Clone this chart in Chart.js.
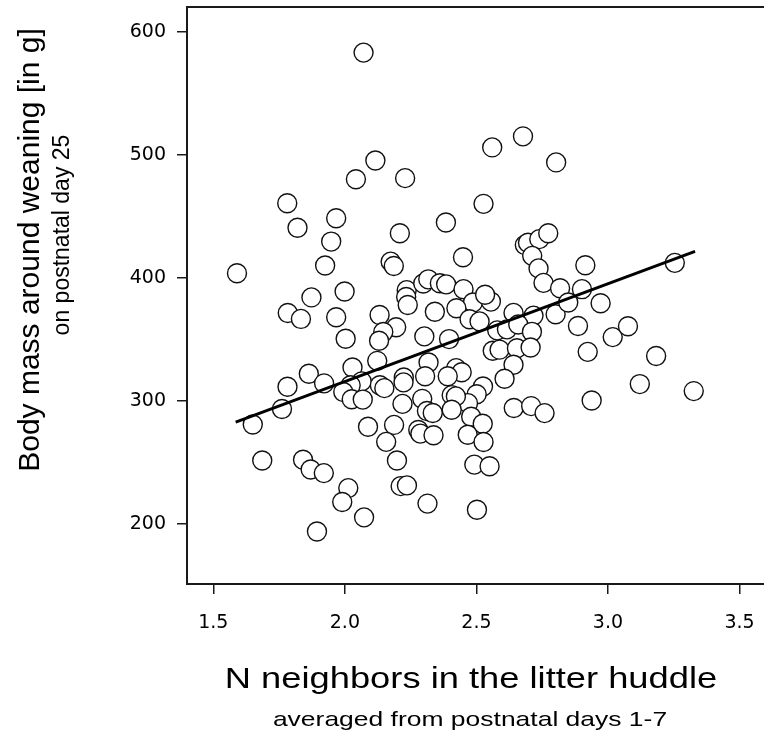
<!DOCTYPE html>
<html>
<head>
<meta charset="utf-8">
<title>Body mass vs huddle neighbors</title>
<script src="https://cdn.jsdelivr.net/npm/chart.js@4.4.0/dist/chart.umd.min.js"></script>
<style>
  html, body { margin: 0; padding: 0; background: #fff; }
  canvas { display: block; }
</style>
</head>
<body>
<canvas id="huddle" width="764" height="744"></canvas>
<script>
// N neighbors (x) and body mass in g (y), one entry per pup
var neighbors = [
    2.071, 2.116, 2.042, 2.229, 1.781, 1.967, 1.820, 2.384, 2.209, 1.948,
    2.527, 2.449, 1.925, 2.174, 2.186, 1.590, 1.873, 1.999, 2.235, 2.233,
    2.239, 2.298, 2.317, 2.361, 2.385, 2.451, 2.487, 2.560, 2.677, 2.803,
    2.684, 2.696, 2.739, 2.773, 2.712, 2.736, 2.755, 2.818, 2.914, 2.901,
    3.254, 2.972, 2.886, 3.018, 3.076, 2.923, 2.801, 2.849, 2.717, 2.641,
    2.555, 2.533, 2.579, 2.616, 2.659, 2.711, 2.562, 2.588, 2.654, 2.706,
    2.641, 2.607, 2.525, 2.501, 2.468, 2.642, 2.708, 2.759, 2.480, 2.524,
    2.467, 2.527, 2.492, 2.550, 2.502, 3.183, 3.121, 3.326, 2.938, 2.424,
    1.783, 2.342, 2.132, 1.833, 1.967, 2.474, 2.512, 2.195, 2.146, 2.302,
    2.003, 2.396, 2.130, 2.123, 2.318, 2.029, 2.423, 2.444, 1.863, 2.224,
    2.223, 2.305, 2.391, 2.064, 1.921, 1.782, 2.133, 2.150, 2.022, 1.994,
    2.406, 2.422, 2.026, 2.068, 2.294, 2.219, 1.761, 2.312, 2.334, 2.406,
    1.650, 2.088, 2.187, 2.279, 2.287, 2.337, 2.157, 1.841, 1.686, 2.198,
    1.870, 1.920, 2.212, 2.236, 2.013, 1.990, 2.314, 2.073, 1.894
];
var bodyMass = [
    583.2, 495.4, 480.2, 481.1, 460.7, 448.5, 440.7, 445.0, 436.3, 429.5,
    460.2, 416.8, 410.0, 413.2, 409.7, 403.7, 384.1, 388.9, 390.0, 384.4,
    377.9, 395.4, 398.8, 395.6, 394.7, 390.8, 380.0, 506.1, 515.1, 493.9,
    426.7, 428.6, 431.5, 436.3, 417.9, 407.7, 395.9, 391.6, 410.2, 390.8,
    412.2, 379.3, 360.9, 351.8, 360.6, 339.8, 370.4, 380.0, 369.3, 371.5,
    380.7, 386.2, 357.3, 358.1, 362.1, 356.1, 340.7, 341.6, 342.7, 343.3,
    329.3, 317.9, 311.6, 305.3, 298.1, 294.2, 295.7, 290.0, 287.0, 281.3,
    272.4, 266.5, 248.1, 246.8, 211.4, 336.4, 313.6, 307.9, 300.3, 375.3,
    371.4, 372.4, 369.8, 366.6, 367.9, 366.3, 364.6, 359.8, 356.0, 352.4,
    350.5, 350.2, 348.9, 332.5, 331.2, 327.1, 326.6, 323.2, 322.0, 319.0,
    315.0, 320.0, 320.0, 315.8, 314.2, 311.4, 312.6, 310.3, 312.6, 307.2,
    304.6, 303.6, 301.3, 301.0, 301.6, 297.5, 293.3, 291.7, 290.1, 292.7,
    280.7, 278.9, 280.4, 276.3, 273.3, 272.0, 266.6, 252.1, 251.5, 251.5,
    244.1, 241.2, 230.6, 231.2, 229.0, 217.7, 216.4, 205.2, 193.7
];

// fitted regression line, end points
var fitX = [1.585, 3.331];
var fitY = [282.7, 421.5];

var xTicks = [1.5, 2.0, 2.5, 3.0, 3.5];
var yTicks = [200, 300, 400, 500, 600];

var xTitle = 'N neighbors in the litter huddle';
var xSubtitle = 'averaged from postnatal days 1-7';
var yTitle = 'Body mass around weaning [in g]';
var ySubtitle = 'on postnatal day 25';

var ink = '#1a1a1a';

var points = neighbors.map(function (x, i) { return { x: x, y: bodyMass[i] }; });
var fitLine = fitX.map(function (x, i) { return { x: x, y: fitY[i] }; });

function drawLabel(ctx, text, x, y, size, stretch, rotate) {
    ctx.save();
    ctx.translate(x, y);
    if (rotate) ctx.rotate(-Math.PI / 2);
    ctx.scale(stretch, 1);
    ctx.font = size + 'px "Liberation Sans", Arial, sans-serif';
    ctx.fillStyle = '#000';
    ctx.textAlign = 'center';
    ctx.textBaseline = 'middle';
    ctx.fillText(text, 0, 0);
    ctx.restore();
}

// top frame line + the two-line axis titles
var framePlugin = {
    id: 'frameAndTitles',
    afterDraw: function (chart) {
        var ctx = chart.ctx;
        var area = chart.chartArea;
        ctx.save();
        ctx.strokeStyle = ink;
        ctx.lineWidth = 2;
        ctx.beginPath();
        ctx.moveTo(area.left - 1, area.top);
        ctx.lineTo(area.right, area.top);
        ctx.stroke();
        ctx.restore();

        drawLabel(ctx, xTitle, 471, 680, 30, 1.21, false);
        drawLabel(ctx, xSubtitle, 470, 720, 21, 1.26, false);
        drawLabel(ctx, yTitle, 31, 250, 30, 1, true);
        drawLabel(ctx, ySubtitle, 63, 235, 23, 1, true);
    }
};

// keep chart.js from shrinking the plot box for tick labels
function noPadding(scale) {
    scale.paddingLeft = 0;
    scale.paddingRight = 0;
    scale.paddingTop = 0;
    scale.paddingBottom = 0;
}

var chart = new Chart(document.getElementById('huddle').getContext('2d'), {
    type: 'scatter',
    data: {
        datasets: [{
            label: 'fit',
            data: fitLine,
            showLine: true,
            borderColor: '#000',
            borderWidth: 3,
            pointRadius: 0,
            order: 0
        }, {
            label: 'pups',
            data: points,
            pointRadius: 9.5,
            pointHoverRadius: 9.5,
            pointBackgroundColor: '#fff',
            pointBorderColor: '#111',
            pointBorderWidth: 1.4,
            order: 1
        }]
    },
    options: {
        responsive: false,
        animation: false,
        devicePixelRatio: 1,
        layout: { autoPadding: false, padding: { left: 0, top: 7, right: 0, bottom: 0 } },
        plugins: {
            legend: { display: false },
            tooltip: { enabled: false }
        },
        scales: {
            x: {
                type: 'linear',
                min: 1.4,
                max: 3.593,
                afterBuildTicks: function (scale) {
                    scale.ticks = xTicks.map(function (v) { return { value: v }; });
                },
                afterFit: function (scale) {
                    scale.height = 160;
                    noPadding(scale);
                },
                grid: { display: true, drawOnChartArea: false, drawTicks: true, tickLength: 10, color: ink, lineWidth: 1.5 },
                border: { display: true, color: ink, width: 2 },
                ticks: {
                    color: '#000',
                    font: { family: 'DejaVu Sans', size: 19 },
                    padding: 18,
                    maxRotation: 0,
                    callback: function (v) { return Number(v).toFixed(1); }
                }
            },
            y: {
                type: 'linear',
                min: 151,
                max: 620.3,
                afterBuildTicks: function (scale) {
                    scale.ticks = yTicks.map(function (v) { return { value: v }; });
                },
                afterFit: function (scale) {
                    scale.width = 187;
                    noPadding(scale);
                },
                grid: { display: true, drawOnChartArea: false, drawTicks: true, tickLength: 10, color: ink, lineWidth: 1.5 },
                border: { display: true, color: ink, width: 2 },
                ticks: {
                    color: '#000',
                    font: { family: 'DejaVu Sans', size: 19 },
                    padding: 11,
                    callback: function (v) { return String(v); }
                }
            }
        }
    },
    plugins: [framePlugin]
});
</script>
</body>
</html>
